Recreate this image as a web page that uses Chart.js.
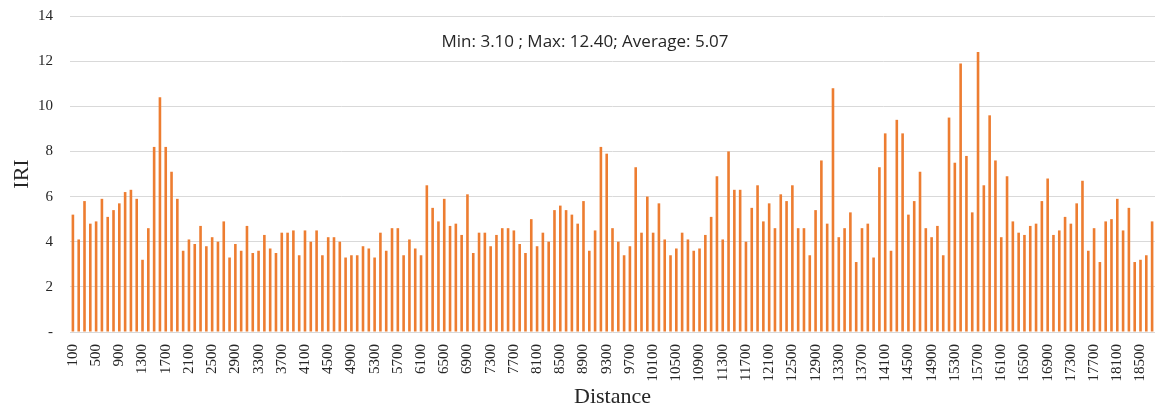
<!DOCTYPE html>
<html>
<head>
<meta charset="utf-8">
<script src="https://cdn.jsdelivr.net/npm/chart.js@4/dist/chart.umd.min.js"></script>
<style>
  html, body { margin: 0; padding: 0; background: #fff; }
  #wrap { width: 1155px; height: 412px; }
</style>
</head>
<body>
<div id="wrap"><canvas id="myChart" width="1155" height="412"></canvas></div>
<script>
// distance every 100 m, from 100 to 18700
const distances = [];
for (let d = 100; d <= 18700; d += 100) distances.push(d);

// IRI values
const iri = [
    5.2, 4.1, 5.8, 4.8, 4.9, 5.9, 5.1, 5.4, 5.7, 6.2, 6.3, 5.9, 3.2, 4.6, 8.2, 10.4, 8.2, 7.1, 5.9, 3.6, 4.1, 3.9, 4.7,
    3.8, 4.2, 4.0, 4.9, 3.3, 3.9, 3.6, 4.7, 3.5, 3.6, 4.3, 3.7, 3.5, 4.4, 4.4, 4.5, 3.4, 4.5, 4.0, 4.5, 3.4, 4.2, 4.2,
    4.0, 3.3, 3.4, 3.4, 3.8, 3.7, 3.3, 4.4, 3.6, 4.6, 4.6, 3.4, 4.1, 3.7, 3.4, 6.5, 5.5, 4.9, 5.9, 4.7, 4.8, 4.3, 6.1, 3.5,
    4.4, 4.4, 3.8, 4.3, 4.6, 4.6, 4.5, 3.9, 3.5, 5.0, 3.8, 4.4, 4.0, 5.4, 5.6, 5.4, 5.2, 4.8, 5.8, 3.6, 4.5, 8.2, 7.9,
    4.6, 4.0, 3.4, 3.8, 7.3, 4.4, 6.0, 4.4, 5.7, 4.1, 3.4, 3.7, 4.4, 4.1, 3.6, 3.7, 4.3, 5.1, 6.9, 4.1, 8.0, 6.3, 6.3,
    4.0, 5.5, 6.5, 4.9, 5.7, 4.6, 6.1, 5.8, 6.5, 4.6, 4.6, 3.4, 5.4, 7.6, 4.8, 10.8, 4.2, 4.6, 5.3, 3.1, 4.6, 4.8, 3.3, 7.3,
    8.8, 3.6, 9.4, 8.8, 5.2, 5.8, 7.1, 4.6, 4.2, 4.7, 3.4, 9.5, 7.5, 11.9, 7.8, 5.3, 12.4, 6.5, 9.6, 7.6, 4.2, 6.9, 4.9,
    4.4, 4.3, 4.7, 4.8, 5.8, 6.8, 4.3, 4.5, 5.1, 4.8, 5.7, 6.7, 3.6, 4.6, 3.1, 4.9, 5.0, 5.9, 4.5, 5.5, 3.1, 3.2, 3.4, 4.9
];

const yTicks = [0, 2, 4, 6, 8, 10, 12, 14];
const summary = 'Min: 3.10 ; Max: 12.40; Average: 5.07';

const serif = '"Liberation Serif", "Times New Roman", serif';

// summary text inside the plot, like the excel text box
const summaryText = {
    id: 'summaryText',
    afterDatasetsDraw(chart){
        const ctx = chart.ctx;
        const area = chart.chartArea;
        const y = chart.scales.y.getPixelForValue(12.82);
        ctx.save();
        ctx.font = '17px "Open Sans", "Liberation Sans", sans-serif';
        ctx.fillStyle = '#262626';
        ctx.textAlign = 'center';
        ctx.textBaseline = 'middle';
        ctx.fillText(summary, area.left + area.width * 0.4747, y);
        ctx.restore();
    }
};

const ctx = document.getElementById('myChart').getContext('2d');
const chart = new Chart(ctx, {
    type: 'bar',
    data: {
        labels: distances,
        datasets: [{
            label: 'IRI',
            data: iri,
            backgroundColor: '#ED7D31',
            borderWidth: 0,
            barPercentage: 0.45,
            categoryPercentage: 1.0
        }]
    },
    options: {
        responsive: false,
        animation: false,
        layout: { padding: { left: 0, right: 0, top: 16, bottom: 0 } },
        plugins: {
            legend: { display: false },
            tooltip: { enabled: false }
        },
        scales: {
            x: {
                grid: { display: false },
                border: { display: false },
                ticks: {
                    autoSkip: false,
                    maxRotation: 90,
                    minRotation: 90,
                    padding: 4,
                    color: '#262626',
                    font: { family: serif, size: 15 },
                    callback: function(value, index){
                        return index % 4 === 0 ? distances[index] : '';
                    }
                },
                title: {
                    display: true,
                    text: 'Distance',
                    color: '#262626',
                    font: { family: serif, size: 22 },
                    padding: { top: 0, bottom: 2 }
                },
                afterFit(scale){
                    scale.height = 80;
                    scale.paddingLeft = 0;
                    scale.paddingRight = 0;
                }
            },
            y: {
                min: 0,
                max: 14,
                afterBuildTicks(scale){
                    scale.ticks = yTicks.map(v => ({ value: v }));
                },
                grid: { color: '#d9d9d9', lineWidth: 1, drawTicks: false },
                border: { display: false },
                ticks: {
                    padding: 17,
                    color: '#262626',
                    font: { family: serif, size: 15 },
                    callback: v => v === 0 ? '-' : v
                },
                title: {
                    display: true,
                    text: 'IRI',
                    color: '#262626',
                    font: { family: serif, size: 22 },
                    padding: { top: 9, bottom: 0 }
                },
                afterFit(scale){
                    scale.width = 70;
                    scale.paddingTop = 0;
                    scale.paddingBottom = 0;
                }
            }
        }
    },
    plugins: [summaryText]
});
</script>
</body>
</html>
